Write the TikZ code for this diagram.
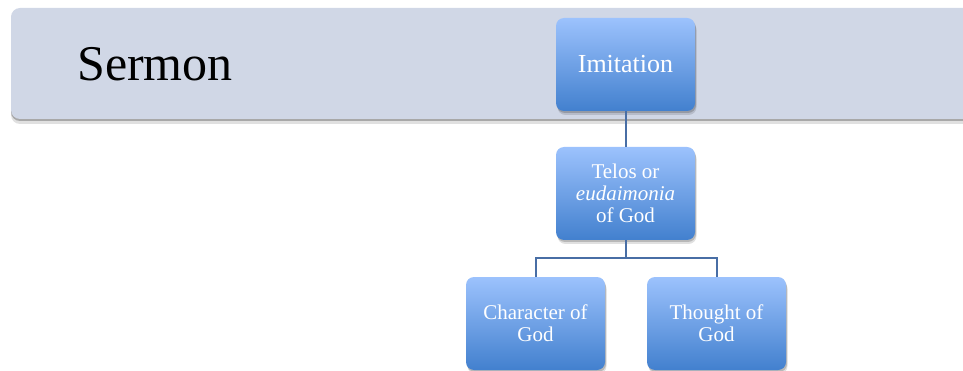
\documentclass[tikz,border=0pt]{standalone}
\usepackage{fontspec}
\setmainfont{Liberation Serif}
\usetikzlibrary{shadows}
\definecolor{bannerfill}{RGB}{208,215,230}
\definecolor{boxtop}{RGB}{156,194,253}
\definecolor{boxmid}{RGB}{118,163,232}
\definecolor{boxbot}{RGB}{66,128,206}
\definecolor{connclr}{RGB}{72,110,165}
\tikzset{
  diagbox/.style={rectangle, rounded corners=8pt, minimum width=139pt, minimum height=93pt,
    inner sep=0pt, top color=boxtop, middle color=boxmid, bottom color=boxbot, text=white, align=center,
    drop shadow={shadow xshift=1pt, shadow yshift=-2pt, opacity=0.18, fill=black},
    drop shadow={shadow xshift=1.5pt, shadow yshift=-4pt, opacity=0.12, fill=black}},
  smalltext/.style={font=\fontsize{21}{22}\selectfont},
  conn/.style={draw=connclr, line width=2pt},
}
\begin{document}
\begin{tikzpicture}[x=1pt,y=-1pt]
\useasboundingbox (0,0) rectangle (963,371);
\clip (0,0) rectangle (963,371);
% banner
\fill[bannerfill, rounded corners=9pt,
  drop shadow={shadow xshift=0pt, shadow yshift=-2pt, opacity=0.25, fill=black},
  drop shadow={shadow xshift=0pt, shadow yshift=-5pt, opacity=0.12, fill=black}]
  (11,8) rectangle (990,119);
\node[anchor=base west, font=\fontsize{50}{60}\selectfont, inner sep=0pt] (sermon) at (77,81) {Sermon};
% boxes
\node[diagbox, font=\fontsize{26}{28}\selectfont] (imit) at (625.5,64.5) {Imitation};
\node[diagbox, smalltext] (telos) at (625.5,193.5) {Telos or\\\textit{eudaimonia}\\of God};
\node[diagbox, smalltext] (char) at (535.5,323.5) {Character of\\God};
\node[diagbox, smalltext] (thought) at (716.5,323.5) {Thought of\\God};
% connectors
\coordinate (bus) at (625.5,258);
\draw[conn] (imit.south) -- (telos.north);
\draw[conn] (telos.south) -- (bus);
\draw[conn] (char.north) |- (bus) -| (thought.north);
\end{tikzpicture}
\end{document}
